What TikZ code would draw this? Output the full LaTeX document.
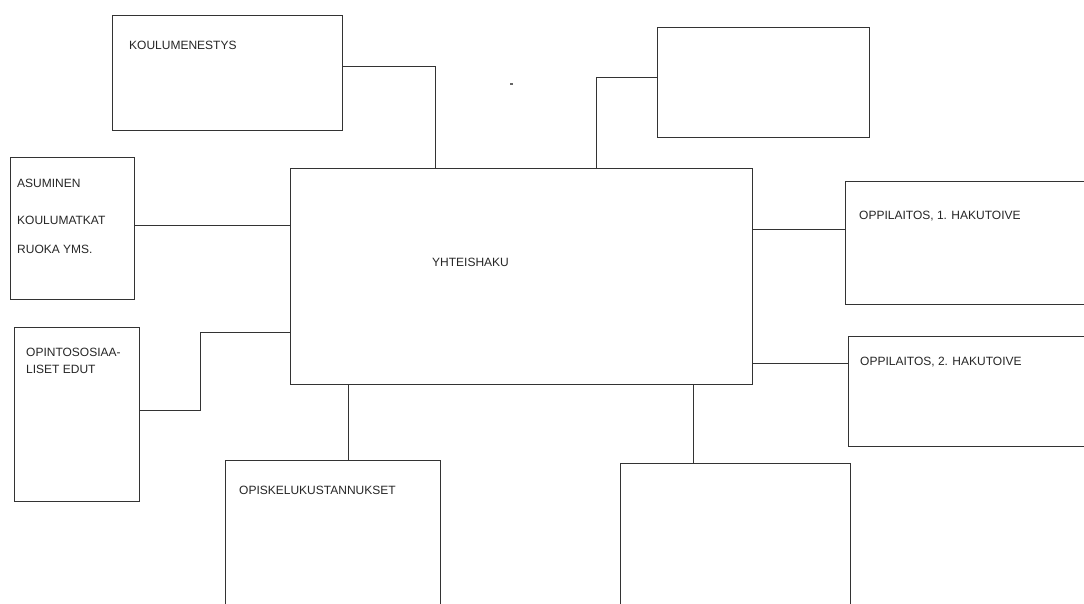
\documentclass[tikz,border=0pt]{standalone}
\usepackage{fontspec}
\setmainfont{Liberation Sans}
\begin{document}
\begin{tikzpicture}[x=1pt,y=-1pt,
  box/.style={draw=black!80, line width=0.9pt, rectangle, anchor=north west, inner sep=0pt},
  lbl/.style={anchor=base west, inner sep=0pt, font=\fontsize{12}{14}\selectfont, text=black!85},
  conn/.style={draw=black!80, line width=0.9pt}]
\useasboundingbox (0,0) rectangle (1084,603);
\clip (0,0) rectangle (1084,603);
\fill[white] (0,0) rectangle (1084,603);
% boxes
\node[box, minimum width=230, minimum height=115] (k) at (112,15) {};
\node[box, minimum width=212, minimum height=110] (tr) at (657,27) {};
\node[box, minimum width=462, minimum height=216] (c) at (290,168) {};
\node[box, minimum width=124, minimum height=142] (a) at (10,157) {};
\node[box, minimum width=125, minimum height=174] (o) at (14,327) {};
\node[box, minimum width=250, minimum height=123] (p1) at (845,181) {};
\node[box, minimum width=250, minimum height=110] (p2) at (848,336) {};
\node[box, minimum width=215, minimum height=160] (ok) at (225,460) {};
\node[box, minimum width=230, minimum height=160] (br) at (620,463) {};
% labels
\node[lbl] (tk) at (129,49) {KOULUMENESTYS};
\node[lbl] (tc) at (432,266) {YHTEISHAKU};
\node[lbl] (ta1) at (17,187) {ASUMINEN};
\node[lbl] (ta2) at (17,224) {KOULUMATKAT};
\node[lbl] (ta3) at (17,253) {RUOKA YMS.};
\node[lbl] (to1) at (26,356) {OPINTOSOSIAA-};
\node[lbl] (to2) at (26,373) {LISET EDUT};
\node[lbl] (tp1) at (859,219) {OPPILAITOS, 1. HAKUTOIVE};
\node[lbl] (tp2) at (860,365) {OPPILAITOS, 2. HAKUTOIVE};
\node[lbl] (tok) at (239,494) {OPISKELUKUSTANNUKSET};
% connector helper coordinates
\coordinate (j1) at (435,66);
\coordinate (j2) at (596,77);
\coordinate (j3) at (0,225);
\coordinate (j4) at (200,410);
\coordinate (j5) at (200,332);
\coordinate (j6) at (0,229);
\coordinate (j7) at (0,363);
\coordinate (j8) at (348,0);
\coordinate (j9) at (693,0);
% connectors
\draw[conn] (k.east |- j1) -| (c.north -| j1);
\draw[conn] (tr.west |- j2) -| (c.north -| j2);
\draw[conn] (a.east |- j3) -- (c.west |- j3);
\draw[conn] (o.east |- j4) -- (j4) -- (j5) -- (c.west |- j5);
\draw[conn] (c.east |- j6) -- (p1.west |- j6);
\draw[conn] (c.east |- j7) -- (p2.west |- j7);
\draw[conn] (c.south -| j8) -- (ok.north -| j8);
\draw[conn] (c.south -| j9) -- (br.north -| j9);
% stray mark
\fill[black!60] (509.5,83) rectangle (512.5,85);
\end{tikzpicture}
\end{document}
